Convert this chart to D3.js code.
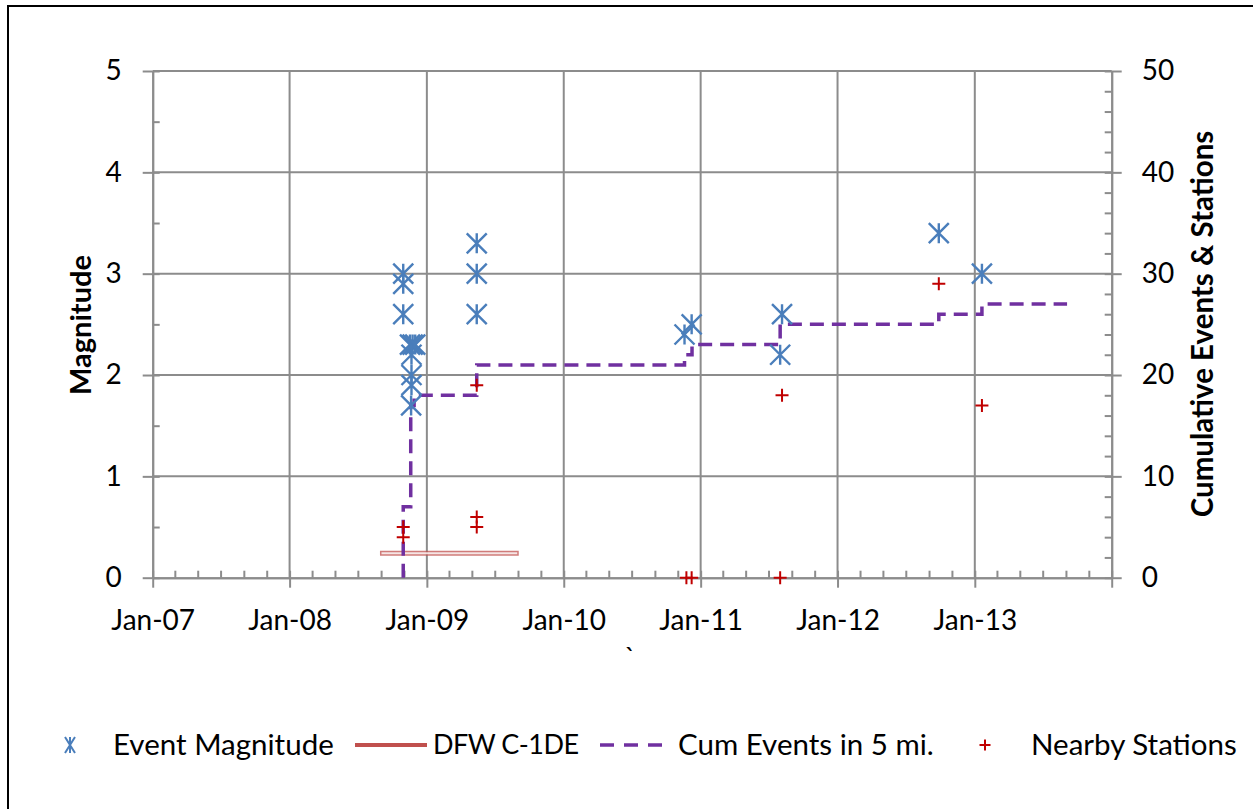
<!DOCTYPE html>
<html>
<head>
<meta charset="utf-8">
<style>
body { margin: 0; background: #fff; }
svg { font-family: Lato, "Open Sans", sans-serif; }
</style>
<script src="https://d3js.org/d3.v7.min.js"></script>
</head>
<body>
<svg id="chart" width="1253" height="809"></svg>
<script>

// ---- data ----
var eventDates = ["2008-10-30", "2008-10-30", "2008-10-30", "2008-11-17", "2008-11-24", "2008-12-01",
                  "2008-11-21", "2008-11-21", "2008-11-21", "2008-11-20",
                  "2009-05-14", "2009-05-14", "2009-05-14",
                  "2010-11-19", "2010-12-08", "2011-08-06", "2011-08-01", "2012-09-27", "2013-01-20"];
var eventMags = [3.0, 2.9, 2.6, 2.3, 2.3, 2.3, 2.2, 2.0, 1.9, 1.7, 3.3, 3.0, 2.6, 2.4, 2.5, 2.6, 2.2, 3.4, 3.0];

var stationDates = ["2008-10-30", "2008-10-30", "2009-05-14", "2009-05-14", "2009-05-14",
                    "2010-11-24", "2010-12-08", "2011-08-01", "2011-08-06", "2012-09-27", "2013-01-20"];
var stationValues = [5, 4, 6, 5, 19, 0, 0, 0, 18, 29, 17];

var cumDates = ["2008-10-30", "2008-10-30", "2008-11-19", "2008-11-28", "2009-05-14", "2010-11-19",
                "2010-12-09", "2011-08-01", "2012-09-27", "2013-01-20", "2013-09-04"];
var cumValues = [0, 7, 17, 18, 21, 22, 23, 25, 26, 27, 27];

var dfwDates = ["2008-08-29", "2009-09-03"];
var dfwValues = [2.5, 2.5];

var xTickLabels = ["Jan-07", "Jan-08", "Jan-09", "Jan-10", "Jan-11", "Jan-12", "Jan-13"];
var leftTicks = [0, 1, 2, 3, 4, 5];
var rightTicks = [0, 10, 20, 30, 40, 50];
var legendLabels = ["Event Magnitude", "DFW C-1DE", "Cum Events in 5 mi.", "Nearby Stations"];

var blue = "#4a7ebb", red = "#c00000", purple = "#7030a0", brick = "#c0504d", grid = "#8c8c8c";

var parse = d3.timeParse("%Y-%m-%d");
var fmt = d3.timeFormat("%b-%y");

var svg = d3.select("#chart");

// outer chart border (left and top edges visible)
svg.append("path")
    .attr("d", "M8,809 V6 H1253")
    .attr("fill", "none")
    .attr("stroke", "#000")
    .attr("stroke-width", 2);

var plotLeft = 152.7, plotRight = 1111.7, plotTop = 71, plotBottom = 577.7;

var x = d3.scaleTime()
    .domain([parse("2007-01-01"), parse("2014-01-01")])
    .range([plotLeft, plotRight]);
var y = d3.scaleLinear().domain([0, 5]).range([plotBottom, plotTop]);
var y2 = d3.scaleLinear().domain([0, 50]).range([plotBottom, plotTop]);

var janDates = xTickLabels.map(function(d) { return d3.timeParse("%b-%y")(d); });

// gridlines
svg.append("g").selectAll("line")
    .data(leftTicks.slice(1))
    .enter().append("line")
    .attr("x1", plotLeft).attr("x2", plotRight)
    .attr("y1", function(d) { return y(d); }).attr("y2", function(d) { return y(d); })
    .attr("stroke", grid).attr("stroke-width", 2);
svg.append("g").selectAll("line")
    .data(janDates.slice(1))
    .enter().append("line")
    .attr("x1", function(d) { return x(d); }).attr("x2", function(d) { return x(d); })
    .attr("y1", plotTop).attr("y2", plotBottom)
    .attr("stroke", grid).attr("stroke-width", 2);

function styleAxis(g) {
    g.select(".domain").attr("stroke", grid).attr("stroke-width", 2);
    g.selectAll(".tick line").attr("stroke", grid).attr("stroke-width", 2);
    g.selectAll(".tick text").attr("fill", "#000").style("font-size", "28px").style("font-family", "Lato");
}

// minor ticks
svg.append("g").attr("transform", "translate(" + plotLeft + ",0)")
    .call(d3.axisRight(y).tickValues(d3.range(0, 5.01, 0.5)).tickSize(7).tickFormat("").tickSizeOuter(0))
    .call(styleAxis);
svg.append("g").attr("transform", "translate(" + plotRight + ",0)")
    .call(d3.axisLeft(y2).tickValues(d3.range(0, 50.1, 2)).tickSize(7).tickFormat("").tickSizeOuter(0))
    .call(styleAxis);
svg.append("g").attr("transform", "translate(0," + plotBottom + ")")
    .call(d3.axisTop(x).ticks(d3.timeMonth.every(2)).tickSize(7).tickFormat("").tickSizeOuter(0))
    .call(styleAxis);

// major axes
svg.append("g").attr("transform", "translate(" + plotLeft + ",0)")
    .call(d3.axisLeft(y).tickValues(leftTicks).tickSize(10).tickPadding(21).tickFormat(d3.format("d")).tickSizeOuter(0))
    .call(styleAxis);
svg.append("g").attr("transform", "translate(" + plotRight + ",0)")
    .call(d3.axisRight(y2).tickValues(rightTicks).tickSize(10).tickPadding(20).tickFormat(d3.format("d")).tickSizeOuter(0))
    .call(styleAxis);
svg.append("g").attr("transform", "translate(0," + plotBottom + ")")
    .call(d3.axisBottom(x).tickValues(janDates.concat([parse("2014-01-01")])).tickSize(10).tickPadding(22)
        .tickFormat(function(d) { return d.getFullYear() < 2014 ? fmt(d) : ""; }).tickSizeOuter(0))
    .call(styleAxis);

// axis titles
svg.append("text")
    .attr("transform", "translate(91,325) rotate(-90)")
    .attr("text-anchor", "middle")
    .style("font-size", "29px").style("font-weight", "bold")
    .text("Magnitude");
svg.append("text")
    .attr("transform", "translate(1213,324) rotate(-90)")
    .attr("text-anchor", "middle")
    .style("font-size", "29.5px").style("font-weight", "bold")
    .text("Cumulative Events & Stations");
svg.append("text")
    .attr("x", 630).attr("y", 668)
    .attr("text-anchor", "middle")
    .style("font-size", "28px")
    .text("`");

// DFW C-1DE bar
svg.append("line")
    .attr("x1", x(parse(dfwDates[0]))).attr("x2", x(parse(dfwDates[1])))
    .attr("y1", y2(dfwValues[0]) + 1).attr("y2", y2(dfwValues[1]) + 1)
    .attr("stroke", brick).attr("stroke-opacity", 0.75).attr("stroke-width", 5);
svg.append("line")
    .attr("x1", x(parse(dfwDates[0])) + 1.5).attr("x2", x(parse(dfwDates[1])) - 1.5)
    .attr("y1", y2(dfwValues[0]) + 1).attr("y2", y2(dfwValues[1]) + 1)
    .attr("stroke", "#fff").attr("stroke-opacity", 0.8).attr("stroke-width", 2);

// cumulative step line
var cumData = cumDates.map(function(d, i) { return [parse(d), cumValues[i]]; });
svg.append("path")
    .datum(cumData)
    .attr("fill", "none")
    .attr("stroke", purple)
    .attr("stroke-width", 3.5)
    .attr("stroke-dasharray", "14,8")
    .attr("d", d3.line()
        .x(function(d) { return x(d[0]); })
        .y(function(d) { return y2(d[1]); })
        .curve(d3.curveStepAfter));

// event magnitude asterisks
function asterisk(rx, ry) {
    return "M" + (-rx) + "," + (-ry) + "L" + rx + "," + ry +
           "M" + (-rx) + "," + ry + "L" + rx + "," + (-ry) +
           "M0," + (-ry) + "L0," + ry;
}
svg.append("g").selectAll("path")
    .data(eventDates.map(function(d, i) { return [parse(d), eventMags[i]]; }))
    .enter().append("path")
    .attr("transform", function(d) { return "translate(" + x(d[0]) + "," + y(d[1]) + ")"; })
    .attr("d", asterisk(10, 10))
    .attr("fill", "none").attr("stroke", blue).attr("stroke-width", 2.4);

// nearby station pluses
function plus(r) { return "M" + (-r) + ",0H" + r + "M0," + (-r) + "V" + r; }
svg.append("g").selectAll("path")
    .data(stationDates.map(function(d, i) { return [parse(d), stationValues[i]]; }))
    .enter().append("path")
    .attr("transform", function(d) { return "translate(" + x(d[0]) + "," + y2(d[1]) + ")"; })
    .attr("d", plus(6.5))
    .attr("fill", "none").attr("stroke", red).attr("stroke-width", 2);

// legend
var ly = 745;
var legend = svg.append("g").style("font-size", "29.5px");
legend.append("path").attr("transform", "translate(70," + ly + ")")
    .attr("d", asterisk(5, 8)).attr("fill", "none").attr("stroke", blue).attr("stroke-width", 2);
legend.append("line").attr("x1", 355).attr("x2", 427).attr("y1", ly).attr("y2", ly)
    .attr("stroke", brick).attr("stroke-width", 4);
legend.append("line").attr("x1", 600).attr("x2", 663).attr("y1", ly).attr("y2", ly)
    .attr("stroke", purple).attr("stroke-width", 3.5).attr("stroke-dasharray", "14,10");
legend.append("path").attr("transform", "translate(985," + ly + ")")
    .attr("d", plus(5.5)).attr("fill", "none").attr("stroke", red).attr("stroke-width", 2);
var legendX = [113, 433, 678, 1031];
legend.selectAll("text.lbl")
    .data(legendLabels)
    .enter().append("text")
    .attr("class", "lbl")
    .attr("x", function(d, i) { return legendX[i]; })
    .attr("y", ly)
    .attr("dy", "0.35em")
    .style("font-size", function(d, i) { return i === 1 ? "27px" : null; })
    .style("letter-spacing", function(d, i) { return i === 1 ? "-0.5px" : null; })
    .text(function(d) { return d; });

</script>
</body>
</html>
